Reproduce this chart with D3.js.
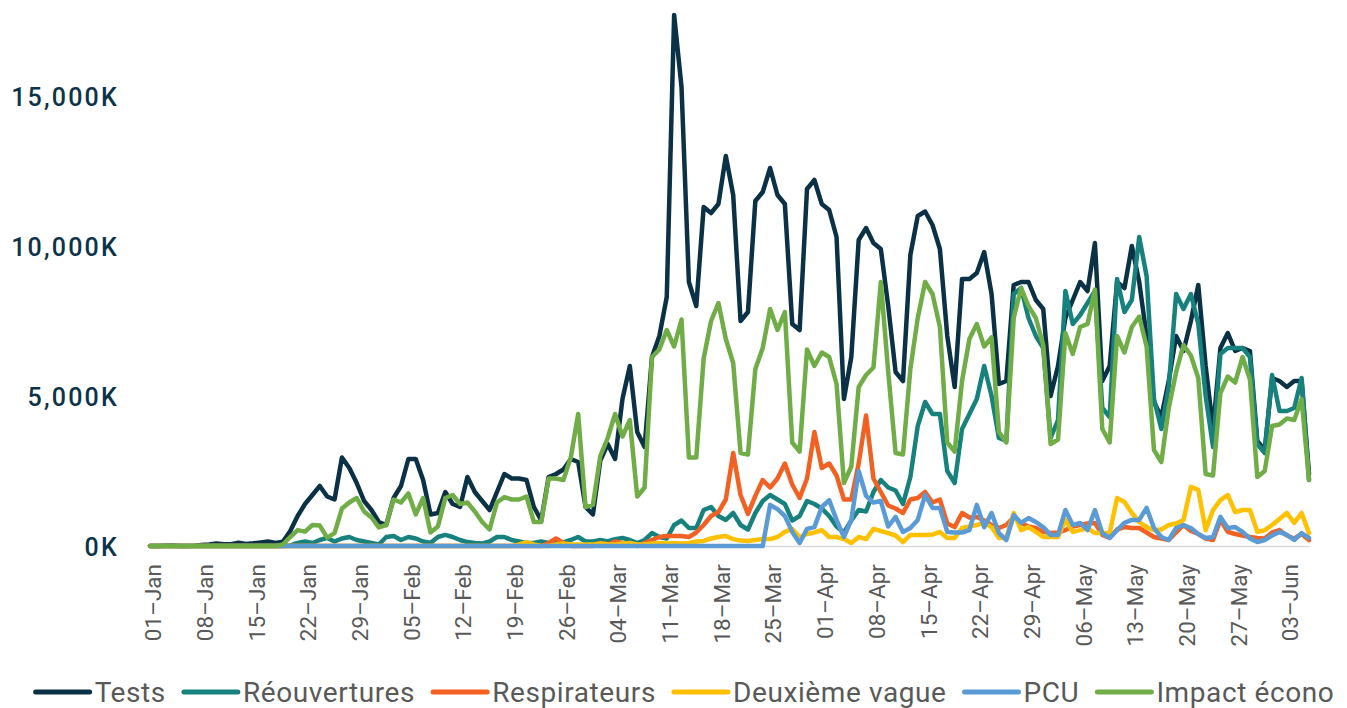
<!DOCTYPE html>
<html>
<head>
<meta charset="utf-8">
<script src="https://cdn.jsdelivr.net/npm/d3@7"></script>
<style>
  body { margin: 0; background: #fff; }
  svg { display: block; }
</style>
</head>
<body>
<script>
// daily values, 01-Jan -> 06-Jun (in K)
var tests = [0,0,10,20,0,0,10,30,50,80,
  60,60,110,70,90,120,150,100,140,500,
  1000,1400,1700,2000,1650,1550,2950,2600,2100,1500,
  1200,800,700,1600,2000,2900,2900,2200,1050,1100,
  1800,1400,1300,2300,1800,1500,1200,1800,2400,2250,
  2250,2200,1300,850,2300,2400,2550,2900,2800,1300,
  1050,2850,3400,2900,4900,6000,3800,3300,6300,7000,
  8300,17700,15300,8800,8000,11300,11100,11400,13000,11700,
  7500,7800,11500,11800,12600,11700,11400,7400,7200,11900,
  12200,11400,11200,10300,4900,6300,10200,10600,10100,9900,
  8000,5800,5500,9700,11000,11150,10700,9900,7000,5300,
  8900,8900,9100,9800,8400,5400,5500,8700,8800,8800,
  8200,7900,5000,6000,7600,8200,8800,8500,10100,5500,
  6000,8800,8600,10000,8800,7000,4800,4300,5500,7000,
  6500,7500,8700,6000,3900,6600,7100,6500,6600,6500,
  3500,3200,5600,5500,5300,5500,5500,2400];

var reouvertures = [0,0,0,0,0,0,0,0,0,0,
  0,0,0,0,0,0,0,0,0,20,
  100,150,100,200,270,150,250,300,200,150,
  100,50,300,330,200,300,250,150,100,300,
  370,300,200,130,100,80,150,300,300,200,
  150,100,100,150,100,100,120,200,300,150,
  150,200,150,230,270,200,100,200,430,300,
  250,700,850,600,600,1200,1300,1000,870,1100,
  700,550,1100,1500,1700,1550,1400,850,1000,1500,
  1400,1250,1000,650,450,850,1200,1150,1800,2200,
  1950,1850,1400,2300,4000,4800,4400,4400,2500,2100,
  3900,4400,4900,6000,5000,3600,3500,8400,8600,7600,
  7000,6600,3600,4200,8500,7400,7700,8100,8500,4600,
  4300,8900,7800,8200,10300,9000,4900,3900,5300,8400,
  7900,8400,7400,5000,3300,6400,6600,6600,6600,6300,
  3400,3100,5700,4500,4500,4600,5600,2200];

var respirateurs = [0,0,0,0,0,0,0,0,0,0,
  0,0,0,0,0,0,0,0,0,0,
  0,0,0,0,0,0,0,0,0,0,
  0,0,0,0,0,0,0,0,0,0,
  0,0,0,0,0,0,0,0,0,0,
  0,0,0,0,100,250,100,0,0,0,
  0,100,50,150,100,50,0,100,200,300,
  330,330,330,300,450,700,1000,1130,1550,3100,
  1700,1070,1670,2200,1950,2250,2750,2050,1600,2250,
  3800,2600,2750,2350,1550,1550,2750,4350,2250,1800,
  1350,1250,1100,1550,1600,1800,1450,1550,750,630,
  1100,950,970,850,700,600,700,970,770,650,
  600,470,430,450,530,650,700,750,770,370,
  270,550,630,600,600,450,300,250,200,450,
  700,500,400,250,200,870,470,400,350,300,
  270,250,450,530,350,250,400,200];

var deuxiemeVague = [0,0,0,0,0,0,0,0,0,0,
  0,0,0,0,0,0,0,0,0,0,
  0,0,0,0,0,0,0,0,0,0,
  0,0,0,0,0,0,0,0,0,0,
  0,0,0,0,0,0,0,0,0,0,
  50,130,50,0,0,50,80,60,50,50,
  50,80,60,50,80,100,50,60,80,100,
  80,100,80,100,150,170,250,300,330,230,
  180,170,200,230,230,300,470,570,300,400,
  450,530,300,300,230,100,300,230,570,500,
  430,350,130,370,370,370,380,470,270,270,
  600,650,700,770,630,270,270,1100,530,630,
  470,300,300,300,870,470,530,600,430,430,
  430,1600,1470,1100,800,630,530,550,700,750,
  870,1970,1870,530,1200,1530,1700,1130,1200,1200,
  470,530,700,900,1100,770,1100,430];

var pcu = [0,0,0,0,0,0,0,0,0,0,
  0,0,0,0,0,0,0,0,0,0,
  0,0,0,0,0,0,0,0,0,0,
  0,0,0,0,0,0,0,0,0,0,
  0,0,0,0,0,0,0,0,0,0,
  0,0,0,0,0,0,0,0,0,0,
  0,0,0,0,0,0,0,0,0,0,
  0,0,0,0,0,0,0,0,0,0,
  0,0,0,0,1370,1230,1000,470,100,570,
  630,1300,1530,870,300,870,2500,1670,1450,1500,
  650,970,470,600,870,1700,1270,1270,470,450,
  450,530,1370,630,1100,430,200,1030,770,930,
  800,630,370,370,1200,700,770,530,1200,430,
  270,530,770,870,870,1270,600,300,200,600,
  700,600,400,270,300,970,600,630,470,250,
  130,200,350,470,370,200,430,270];

var impactEcono = [0,0,0,0,0,0,0,0,0,0,
  0,0,0,0,0,0,0,0,50,300,
  530,480,700,680,280,430,1250,1450,1600,1150,
  950,620,700,1550,1450,1750,1050,1600,450,650,
  1600,1700,1400,1450,1150,800,550,1450,1630,1550,
  1550,1650,800,800,2250,2250,2200,2950,4400,1300,
  1370,3000,3600,4400,3650,4200,1650,1950,6300,6550,
  7200,6650,7550,2950,2950,6250,7500,8100,6900,6100,
  3100,3050,5900,6600,7900,7200,7800,3450,3150,6550,
  6000,6450,6300,5400,2100,2650,5300,5700,5950,8800,
  5800,3100,3050,5900,7600,8800,8400,7300,3450,3150,
  5500,6900,7400,6650,6950,3800,3450,7600,8600,8000,
  7600,6700,3400,3550,7100,6400,7300,7400,8550,3900,
  3450,7000,6450,7300,7650,6650,3200,2800,4600,5800,
  6700,6350,5600,2400,2350,5100,5650,5450,6300,5550,
  2300,2500,4000,4050,4250,4200,4900,2200];

var tickLabels = ["01–Jan","08–Jan","15–Jan","22–Jan","29–Jan","05–Feb","12–Feb",
  "19–Feb","26–Feb","04–Mar","11–Mar","18–Mar","25–Mar","01–Apr","08–Apr",
  "15–Apr","22–Apr","29–Apr","06–May","13–May","20–May","27–May","03–Jun"];
var yTicks = [0, 5000, 10000, 15000];

var seriesNames = ["Tests","Réouvertures","Respirateurs","Deuxième vague","PCU","Impact écono"];
var seriesColors = ["#0b3147","#17817e","#f26122","#ffc000","#5b9bd5","#70ad47"];
var seriesValues = [tests, reouvertures, respirateurs, deuxiemeVague, pcu, impactEcono];

var width = 1347, height = 708;
var start = new Date(Date.UTC(2020, 0, 1));
var dates = d3.utcDay.range(start, d3.utcDay.offset(start, tests.length));

var svg = d3.select("body").append("svg")
    .attr("width", width).attr("height", height);

var x = d3.scaleUtc()
    .domain([dates[0], dates[dates.length - 1]])
    .range([150, 1309]);
var y = d3.scaleLinear()
    .domain([0, 15000])
    .range([546, 96]);

// x axis
var tickDates = dates.filter(function(d, i){ return i % 7 === 0; });
var xAxis = d3.axisBottom(x)
    .tickValues(tickDates)
    .tickFormat(function(d, i){ return tickLabels[i]; })
    .tickSize(0)
    .tickSizeOuter(0);

var gx = svg.append("g")
    .attr("transform", "translate(0," + y(0) + ")")
    .call(xAxis);
gx.select(".domain").attr("stroke", "#d9d9d9").attr("stroke-width", 1.5);
gx.selectAll("text")
    .attr("transform", "rotate(-90)")
    .attr("text-anchor", "end")
    .attr("x", -18)
    .attr("y", 3)
    .attr("dy", "0.35em")
    .style("font-family", "Roboto, 'Liberation Sans', sans-serif")
    .style("font-size", "22.5px")
    .style("fill", "#595959");

// y axis
var yAxis = d3.axisLeft(y)
    .tickValues(yTicks)
    .tickFormat(function(d){ return d3.format(",")(d) + "K"; })
    .tickSize(0);
var gy = svg.append("g")
    .attr("transform", "translate(150,0)")
    .call(yAxis);
gy.select(".domain").remove();
gy.selectAll("text")
    .attr("x", -31)
    .attr("dy", "0.36em")
    .style("font-family", "Roboto, sans-serif")
    .style("font-weight", "500")
    .style("font-size", "25px")
    .style("letter-spacing", "2.2px")
    .style("fill", "#0d3349");

// lines
var line = d3.line()
    .x(function(d, i){ return x(dates[i]); })
    .y(function(d){ return y(d); });

svg.append("g").selectAll("path")
    .data(seriesValues)
    .enter().append("path")
    .attr("fill", "none")
    .attr("stroke", function(d, i){ return seriesColors[i]; })
    .attr("stroke-width", 4.5)
    .attr("stroke-linejoin", "round")
    .attr("stroke-linecap", "round")
    .attr("d", line);

// legend
var legend = svg.append("g");
var item = legend.selectAll("g")
    .data(seriesNames)
    .enter().append("g");
item.append("line")
    .attr("x1", 0).attr("x2", 54)
    .attr("y1", 0).attr("y2", 0)
    .attr("stroke", function(d, i){ return seriesColors[i]; })
    .attr("stroke-width", 5)
    .attr("stroke-linecap", "round");
item.append("text")
    .attr("x", 59)
    .attr("y", 10)
    .text(function(d){ return d; })
    .style("font-family", "Roboto, sans-serif")
    .style("font-size", "28px")
    .style("letter-spacing", "0.6px")
    .style("fill", "#595959");

var pos = 0;
item.each(function(){
  var w = d3.select(this).select("text").node().getComputedTextLength();
  d3.select(this).attr("transform", "translate(" + pos + ",0)");
  pos += 59 + w + 18;
});
var total = pos - 18;
legend.attr("transform", "translate(" + (685 - total / 2) + ",692)");
</script>
</body>
</html>
